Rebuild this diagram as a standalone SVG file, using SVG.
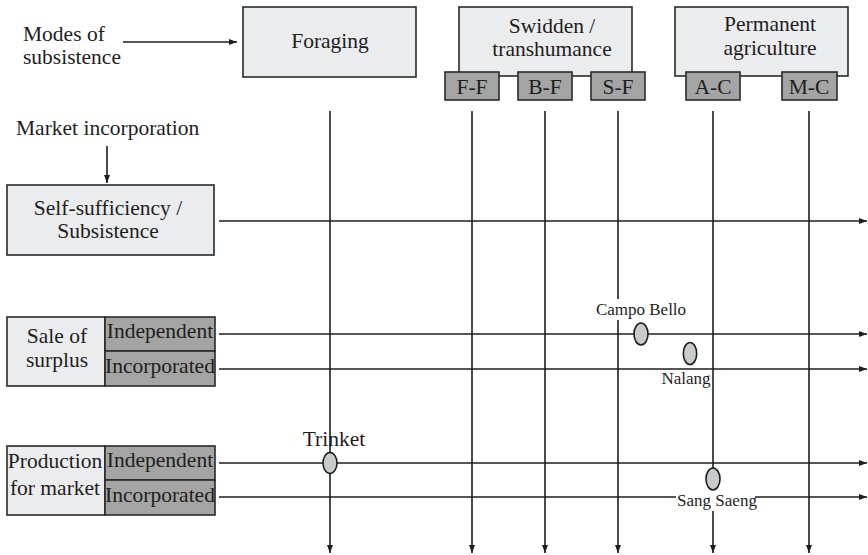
<svg xmlns="http://www.w3.org/2000/svg" width="868" height="555" viewBox="0 0 868 555" font-family="'Liberation Serif', 'Times New Roman', Times, 'DejaVu Serif', serif">
  <style>
    text { font-family: "Liberation Serif", "Times New Roman", Times, "DejaVu Serif", serif; fill: #1e1e1e; }
    .big { font-size: 21.5px; }
    .small { font-size: 17px; }
    .mid { text-anchor: middle; }
    .light { fill: #ebecee; stroke: #2a2a2a; stroke-width: 1.6; }
    .dark { fill: #a4a4a4; stroke: #2a2a2a; stroke-width: 1.6; }
    .line { stroke: #1e1e1e; stroke-width: 1.6; fill: none; }
    .case { fill: #c9cacc; stroke: #1e1e1e; stroke-width: 1.6; }
    .mask { fill: #ffffff; }
  </style>
  <defs>
    <marker id="arrow" viewBox="0 0 8 6" refX="8" refY="3" markerWidth="8" markerHeight="6" markerUnits="userSpaceOnUse" orient="auto">
      <path d="M0,0 L8,3 L0,6 Z" fill="#1e1e1e"/>
    </marker>
  </defs>

  <rect width="868" height="555" fill="#ffffff"/>

  <!-- Axis titles -->
  <g id="modes-label">
    <text class="big" x="23" y="41">Modes of</text>
    <text class="big" x="23" y="64">subsistence</text>
  </g>
  <g id="market-label">
    <text class="big" x="16" y="135">Market incorporation</text>
  </g>

  <!-- Connectors -->
  <g id="connectors">
    <line class="line" x1="123" y1="42" x2="237" y2="42" marker-end="url(#arrow)"/>
    <line class="line" x1="107" y1="146" x2="107" y2="183" marker-end="url(#arrow)"/>
    <!-- market incorporation levels -->
    <line class="line" x1="219" y1="221" x2="867" y2="221" marker-end="url(#arrow)"/>
    <line class="line" x1="219" y1="334" x2="867" y2="334" marker-end="url(#arrow)"/>
    <line class="line" x1="219" y1="369" x2="867" y2="369" marker-end="url(#arrow)"/>
    <line class="line" x1="219" y1="463" x2="867" y2="463" marker-end="url(#arrow)"/>
    <line class="line" x1="219" y1="497" x2="867" y2="497" marker-end="url(#arrow)"/>
    <!-- subsistence modes -->
    <line class="line" x1="330" y1="111" x2="330" y2="553" marker-end="url(#arrow)"/>
    <line class="line" x1="472" y1="111" x2="472" y2="553" marker-end="url(#arrow)"/>
    <line class="line" x1="545" y1="111" x2="545" y2="553" marker-end="url(#arrow)"/>
    <line class="line" x1="618" y1="111" x2="618" y2="553" marker-end="url(#arrow)"/>
    <line class="line" x1="713" y1="111" x2="713" y2="553" marker-end="url(#arrow)"/>
    <line class="line" x1="809" y1="111" x2="809" y2="553" marker-end="url(#arrow)"/>
  </g>

  <!-- Modes of subsistence -->
  <g id="foraging">
    <rect class="light" x="243" y="7" width="173" height="70"/>
    <text class="big mid" x="330" y="48">Foraging</text>
  </g>
  <g id="swidden">
    <rect class="light" x="459" y="7" width="173" height="69"/>
    <text class="big mid" x="552" y="33">Swidden /</text>
    <text class="big mid" x="552" y="56">transhumance</text>
  </g>
  <g id="permanent">
    <rect class="light" x="675" y="7" width="173" height="69"/>
    <text class="big mid" x="770" y="31">Permanent</text>
    <text class="big mid" x="770" y="55">agriculture</text>
  </g>
  <g id="ff">
    <rect class="dark" x="445" y="72" width="54" height="28"/>
    <text class="big mid" x="472" y="94">F-F</text>
  </g>
  <g id="bf">
    <rect class="dark" x="518" y="72" width="54" height="28"/>
    <text class="big mid" x="545" y="94">B-F</text>
  </g>
  <g id="sf">
    <rect class="dark" x="591" y="72" width="54" height="28"/>
    <text class="big mid" x="618" y="94">S-F</text>
  </g>
  <g id="ac">
    <rect class="dark" x="686" y="72" width="54" height="28"/>
    <text class="big mid" x="713" y="94">A-C</text>
  </g>
  <g id="mc">
    <rect class="dark" x="782" y="72" width="55" height="28"/>
    <text class="big mid" x="809" y="94">M-C</text>
  </g>

  <!-- Market incorporation levels -->
  <g id="self-sufficiency">
    <rect class="light" x="7" y="185" width="207" height="70"/>
    <text class="big mid" x="108" y="215">Self-sufficiency /</text>
    <text class="big mid" x="108" y="238">Subsistence</text>
  </g>
  <g id="sale-of-surplus">
    <rect class="light" x="7" y="317" width="98" height="69"/>
    <rect class="dark" x="105" y="317" width="110" height="34"/>
    <rect class="dark" x="105" y="351" width="110" height="35"/>
    <text class="big mid" x="57" y="343">Sale of</text>
    <text class="big mid" x="57" y="367">surplus</text>
    <text class="big mid" x="160" y="338">Independent</text>
    <text class="big mid" x="160" y="373">Incorporated</text>
  </g>
  <g id="production-for-market">
    <rect class="light" x="7" y="446" width="98" height="69"/>
    <rect class="dark" x="105" y="446" width="110" height="34"/>
    <rect class="dark" x="105" y="480" width="110" height="35"/>
    <text class="big mid" x="55" y="468">Production</text>
    <text class="big mid" x="55" y="495">for market</text>
    <text class="big mid" x="160" y="467">Independent</text>
    <text class="big mid" x="160" y="502">Incorporated</text>
  </g>

  <!-- Case studies -->
  <g id="trinket">
    <ellipse class="case" cx="330" cy="463" rx="7" ry="10.5"/>
    <text class="big mid" x="334" y="446">Trinket</text>
  </g>
  <g id="campo-bello">
    <rect class="mask" x="597" y="299" width="88" height="21"/>
    <text class="small mid" x="641" y="315">Campo Bello</text>
    <ellipse class="case" cx="641" cy="334" rx="7" ry="11"/>
  </g>
  <g id="nalang">
    <ellipse class="case" cx="690" cy="353.5" rx="6.7" ry="11"/>
    <text class="small mid" x="686" y="384">Nalang</text>
  </g>
  <g id="sang-saeng">
    <rect class="mask" x="676" y="490" width="79" height="21"/>
    <text class="small mid" x="717" y="506">Sang Saeng</text>
    <ellipse class="case" cx="713" cy="479" rx="7" ry="11"/>
  </g>
</svg>
